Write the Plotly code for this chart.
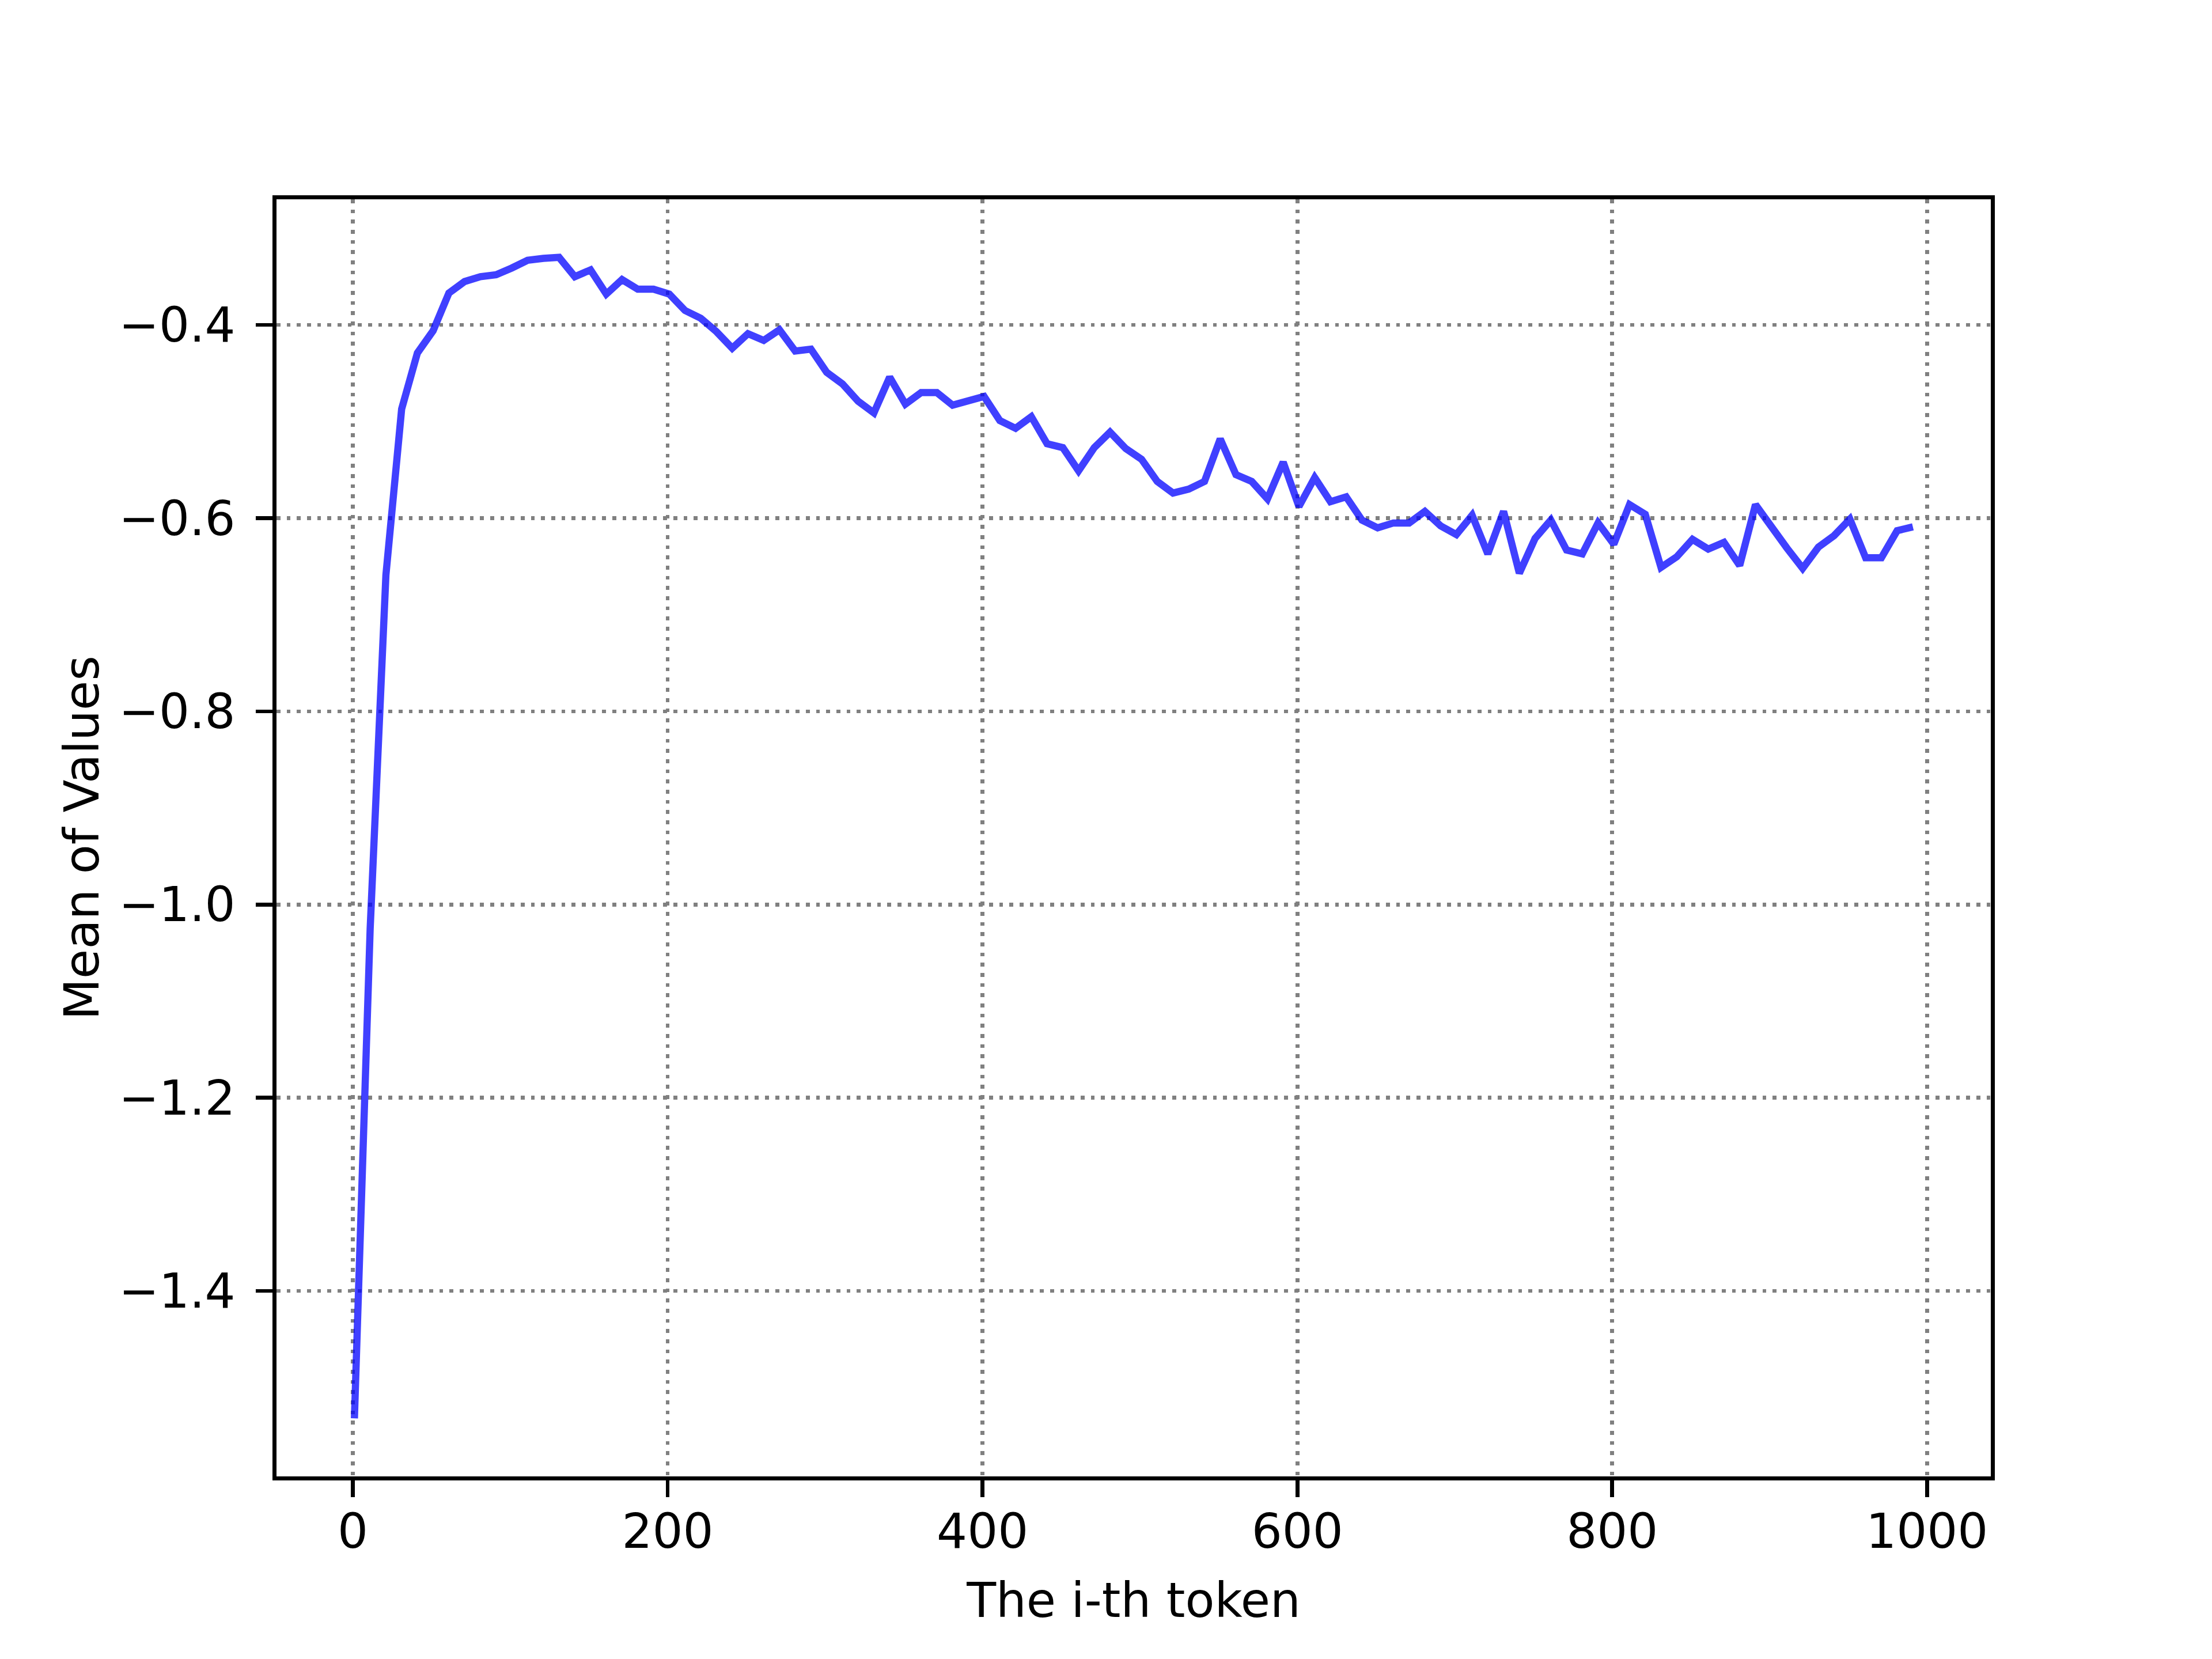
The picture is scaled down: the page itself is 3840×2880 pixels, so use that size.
import plotly.graph_objects as go

tokens = list(range(1, 1000, 10))

mean_values = [
    -1.532, -1.025, -0.659, -0.487, -0.429, -0.406, -0.367, -0.355, -0.350, -0.348,
    -0.341, -0.333, -0.331, -0.330, -0.350, -0.343, -0.368, -0.353, -0.363, -0.363,
    -0.368, -0.385, -0.393, -0.407, -0.424, -0.409, -0.416, -0.405, -0.427, -0.425,
    -0.449, -0.461, -0.479, -0.491, -0.454, -0.482, -0.470, -0.470, -0.483, -0.478,
    -0.474, -0.499, -0.507, -0.495, -0.523, -0.527, -0.551, -0.527, -0.511, -0.528,
    -0.539, -0.562, -0.574, -0.570, -0.562, -0.518, -0.555, -0.562, -0.580, -0.542,
    -0.588, -0.558, -0.583, -0.578, -0.602, -0.610, -0.605, -0.605, -0.593, -0.608,
    -0.617, -0.597, -0.637, -0.593, -0.657, -0.621, -0.602, -0.633, -0.637, -0.605,
    -0.627, -0.586, -0.596, -0.651, -0.640, -0.622, -0.632, -0.625, -0.649, -0.586,
    -0.610, -0.631, -0.652, -0.630, -0.618, -0.601, -0.641, -0.641, -0.613, -0.609,
]

x_ticks = [0, 200, 400, 600, 800, 1000]
y_ticks = [-1.4, -1.2, -1.0, -0.8, -0.6, -0.4]

PT = 600 / 72.0  # px per point at 600 dpi

fig = go.Figure()
fig.add_trace(go.Scatter(
    x=tokens, y=mean_values, mode="lines",
    line=dict(color="rgba(0,0,255,0.75)", width=1.5 * PT),
    showlegend=False, hoverinfo="skip",
))

font = dict(family="DejaVu Sans", size=10 * PT, color="black")

xmin, xmax = min(tokens), max(tokens)
ymin, ymax = min(mean_values), max(mean_values)
xpad = (xmax - xmin) * 0.05
ypad = (ymax - ymin) * 0.05

axis_common = dict(
    showline=True, linecolor="black", linewidth=0.8 * PT, mirror=True,
    ticks="outside", ticklen=3.5 * PT, tickwidth=0.8 * PT, tickcolor="black",
    showgrid=True, gridcolor="gray", gridwidth=0.8 * PT,
    griddash=f"{0.8*PT:.2f}px,{1.32*PT:.2f}px",
    zeroline=False, tickfont=font,
)

fig.update_xaxes(
    range=[xmin - xpad, xmax + xpad], tickvals=x_ticks,
    ticklabelstandoff=-12,
    title=dict(text="The i-th token", font=font, standoff=45),
    **axis_common,
)
fig.update_yaxes(
    range=[ymin - ypad, ymax + ypad], tickvals=y_ticks, tickformat=".1f",
    ticklabelstandoff=19,
    title=dict(text="Mean of Values", font=font, standoff=9),
    **axis_common,
)

fig.update_layout(
    width=3840, height=2880,
    margin=dict(l=480, r=384, t=346, b=317, autoexpand=False),
    paper_bgcolor="white", plot_bgcolor="white",
    font=font,
)

fig.write_html(
    "out.html",
    config={"displayModeBar": False, "staticPlot": True},
    post_script="document.body.style.margin='0px';",
)
